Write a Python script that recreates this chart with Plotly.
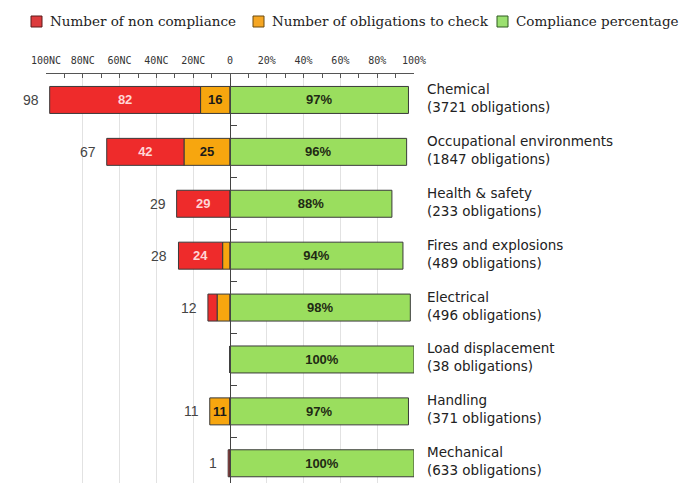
import plotly.graph_objects as go

categories = ["Chemical", "Occupational environments", "Health & safety", "Fires and explosions",
              "Electrical", "Load displacement", "Handling", "Mechanical"]
obligations = [3721, 1847, 233, 489, 496, 38, 371, 633]
non_compliance = [82, 42, 29, 24, 5, 0, 0, 1]
to_check = [16, 25, 0, 4, 7, 0, 11, 0]
compliance_pct = [97, 96, 88, 94, 98, 100, 97, 100]
tick_vals = [-100, -80, -60, -40, -20, 0, 20, 40, 60, 80, 100]
tick_text = ["100NC", "80NC", "60NC", "40NC", "20NC", "0", "20%", "40%", "60%", "80%", "100%"]
legend_names = ["Number of non compliance", "Number of obligations to check", "Compliance percentage"]

W, H = 694, 483
ML, MR, MT, MB = 46, 280, 74, 0
PW, PH = W - ML - MR, H - MT - MB

def px_x(px):
    return (px - ML) / PW

def px_y(py):
    return (H - MB - py) / PH

ypos = list(range(len(categories)))
totals = [a + b for a, b in zip(non_compliance, to_check)]

def lbl(vals):
    return [str(v) if v >= 10 else "" for v in vals]

RED, ORANGE, GREEN = "#ee2b2b", "#f7a60f", "#9ade5e"
edge = dict(color="#3a3a3a", width=1)
fig = go.Figure()
fig.add_trace(go.Bar(
    y=ypos, x=[-v for v in to_check], orientation="h", name=legend_names[1],
    marker=dict(color=ORANGE, line=edge), width=0.52,
    text=lbl(to_check), texttemplate="%{text}", textposition="inside", insidetextanchor="middle",
    textfont=dict(family="Liberation Sans", size=13, color="#1a1a1a", weight="bold"),
    textangle=0))
fig.add_trace(go.Bar(
    y=ypos, x=[-v for v in non_compliance], orientation="h", name=legend_names[0],
    marker=dict(color=RED, line=edge), width=0.52,
    text=lbl(non_compliance), texttemplate="%{text}", textposition="inside", insidetextanchor="middle",
    textfont=dict(family="Liberation Sans", size=13, color="#ffd6d6", weight="bold"),
    textangle=0))
fig.add_trace(go.Bar(
    y=ypos, x=compliance_pct, orientation="h", name=legend_names[2],
    marker=dict(color=GREEN, line=edge), width=0.52,
    text=[f"{v}%" for v in compliance_pct], texttemplate="%{text}", textposition="inside",
    insidetextanchor="middle",
    textfont=dict(family="Liberation Sans", size=13, color="#1f2a14", weight="bold"),
    textangle=0))

for i, t in enumerate(totals):
    if t > 0:
        fig.add_annotation(x=-t, y=ypos[i], xref="x", yref="y", text=str(t), showarrow=False,
                           xanchor="right", xshift=-9,
                           font=dict(family="Liberation Sans", size=14, color="#444444"))
for i, (c, n) in enumerate(zip(categories, obligations)):
    fig.add_annotation(x=1, y=ypos[i], xref="paper", yref="y",
                       text=f"{c}<br>({n} obligations)", showarrow=False,
                       xanchor="left", align="left", xshift=11, yshift=2,
                       font=dict(family="DejaVu Sans", size=13.5, color="#222222"))

# custom legend (top row)
leg_sq_left = [31, 253, 497]
leg_colors = ["#dc3b3d", "#f5a623", "#9be070"]
leg_borders = ["#5a1a1a", "#6a4a10", "#2f5a20"]
for sx, col, bc, name in zip(leg_sq_left, leg_colors, leg_borders, legend_names):
    fig.add_shape(type="rect", xref="paper", yref="paper",
                  x0=px_x(sx), x1=px_x(sx + 11), y0=px_y(27), y1=px_y(16),
                  fillcolor=col, line=dict(color=bc, width=1))
    fig.add_annotation(x=px_x(sx + 17), y=px_y(21.5), xref="paper", yref="paper", text=name,
                       showarrow=False, xanchor="left", yanchor="middle",
                       font=dict(family="DejaVu Serif", size=13.5, color="#222222"))

fig.update_layout(
    width=W, height=H,
    margin=dict(l=ML, r=MR, t=MT, b=MB, autoexpand=False),
    barmode="relative",
    plot_bgcolor="white", paper_bgcolor="white",
    showlegend=False,
    xaxis=dict(side="top", range=[-100, 100], tickvals=tick_vals, ticktext=tick_text,
               ticks="inside", ticklen=4, tickcolor="#555555", showline=True, linecolor="#555555",
               linewidth=1, showgrid=True, gridcolor="#e2e2e2", zeroline=False,
               ticklabelstandoff=5,
               tickfont=dict(family="DejaVu Sans Mono", size=10, color="#333333"),
               minor=dict(ticks="inside", dtick=10, tick0=0, ticklen=4, tickcolor="#555555",
                          showgrid=False)),
    yaxis=dict(range=[7.38, -0.5], anchor="free", position=0.5, side="right",
               showline=True, linecolor="#444444", linewidth=1,
               tickvals=[i + 0.5 for i in ypos[:-1]], ticks="outside", ticklen=6,
               tickcolor="#444444", showticklabels=False, showgrid=False, zeroline=False),
)

fig.write_html("out.html", config={"displayModeBar": False},
               post_script="document.body.style.margin='0';")
